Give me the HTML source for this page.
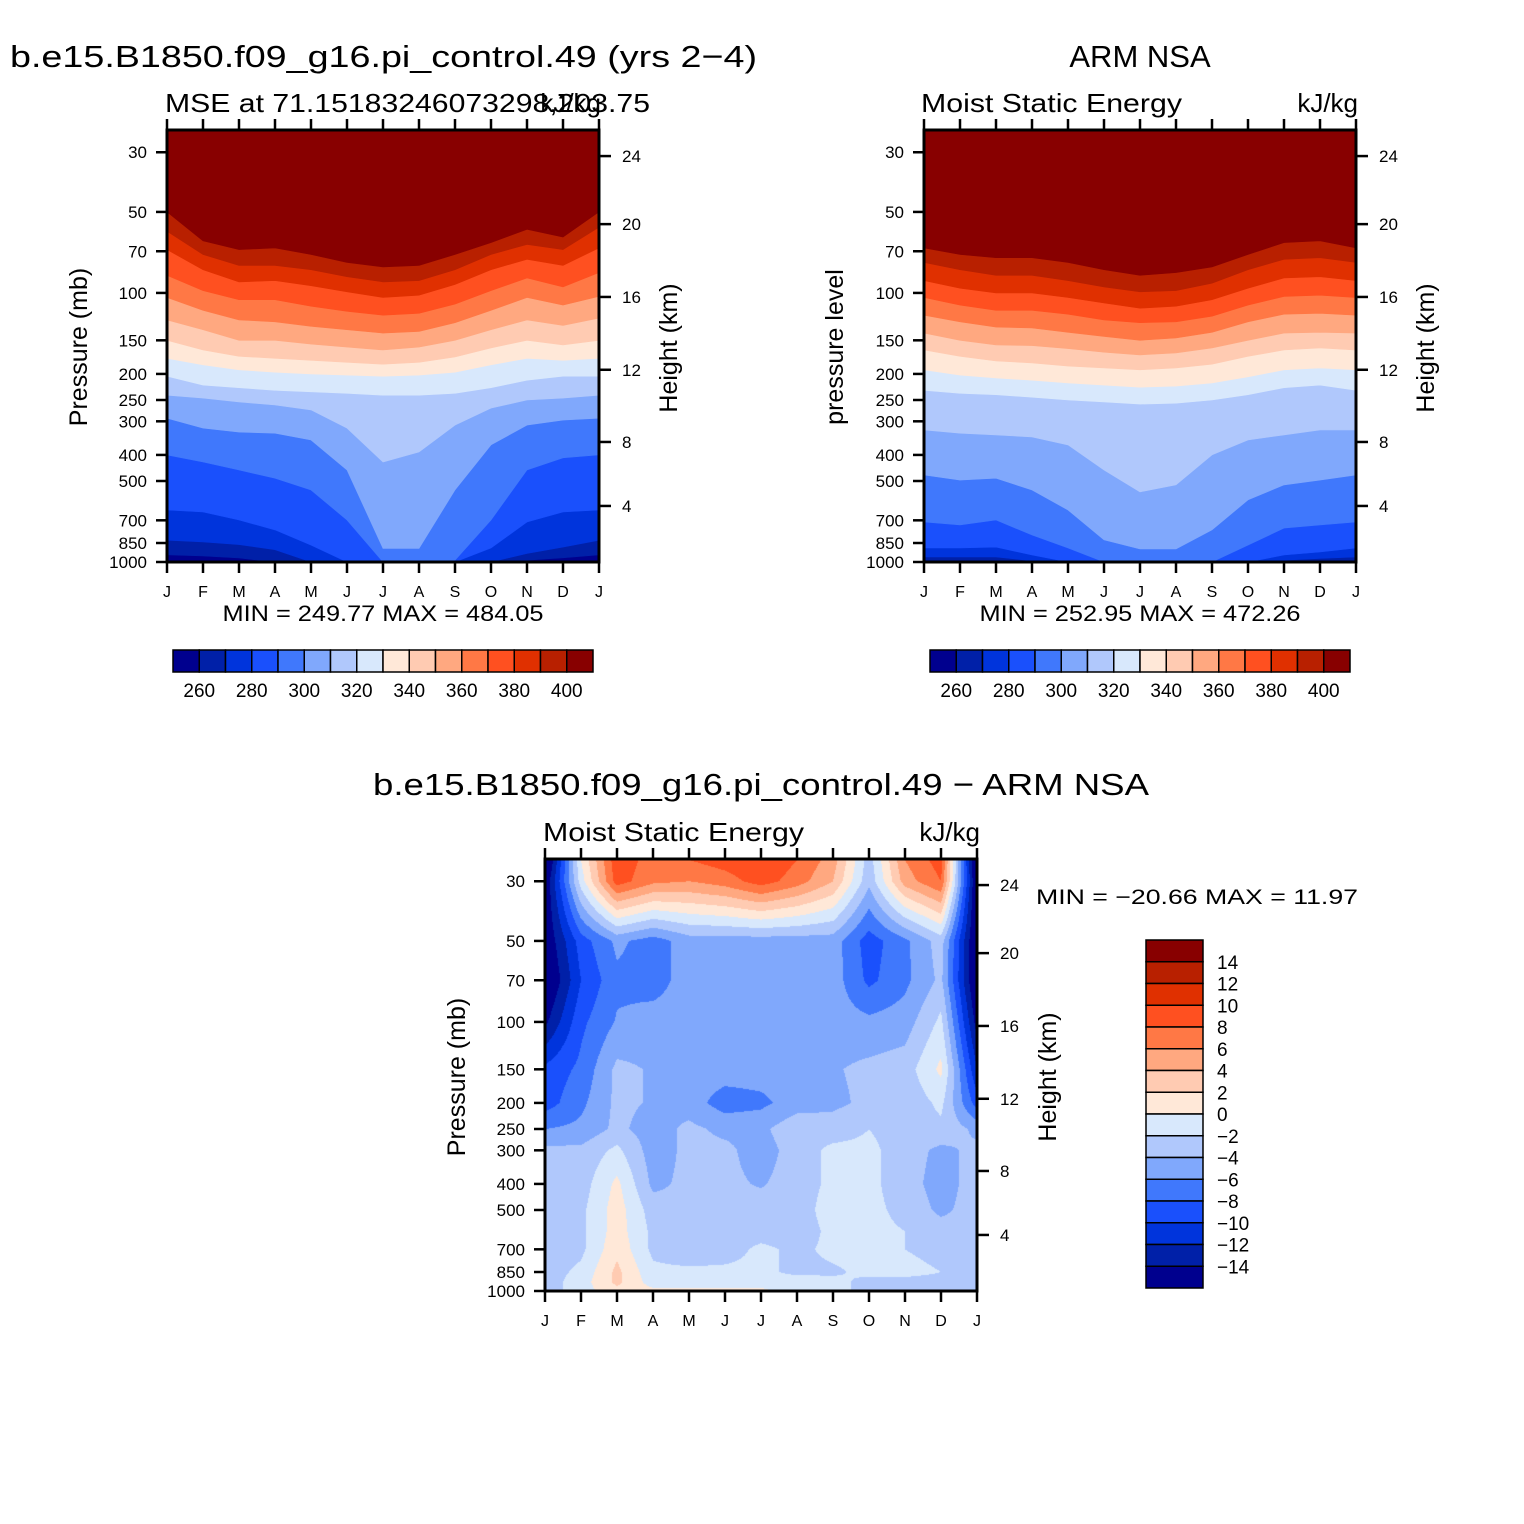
<!DOCTYPE html>
<html><head><meta charset="utf-8">
<style>
html,body{margin:0;padding:0;background:#fff;}
#wrap{position:relative;width:1524px;height:1524px;overflow:hidden;}
svg{position:absolute;left:0;top:0;}
canvas{position:absolute;}
text{font-family:"Liberation Sans",sans-serif;fill:#000;}
</style></head>
<body>
<div id="wrap">
<canvas id="diffCanvas" width="432" height="432" style="left:545px;top:859px;"></canvas>
<svg id="svg" width="1524" height="1524" viewBox="0 0 1524 1524"></svg>
</div>
<script>
// ---------- shared axes data ----------
const months = ["J","F","M","A","M","J","J","A","S","O","N","D","J"];
const pTicks = [30,50,70,100,150,200,250,300,400,500,700,850,1000];
const hTicks = [24,20,16,12,8,4];
const hTickP = [31.0,55.5,103.5,193,358,619]; // pressure at which each height tick sits
const topLevels = [260,270,280,290,300,310,320,330,340,350,360,370,380,390,400];
const topLabels = [260,280,300,320,340,360,380,400];
const colors = ["#00008e","#0020a8","#0034dc","#1a50fc","#4078fc","#80a8fc","#b0c8fc","#d8e8fc",
                "#ffe8d8","#ffcbb2","#ffa880","#ff7845","#ff5020","#e03000","#b82000","#880000"];
// ---------- model (top-left) contour crossings: pressure (mb) of each level per month ----------
const tl260=[940,950,966,1000,1000,1000,1000,1000,1000,1000,985,965,940];
const tl270=[830,842,862,900,1000,1000,1000,1000,1000,1000,930,880,830];
const tl280=[641,652,698,760,865,1000,1000,1000,1000,887,710,652,641];
const tl290=[400,425,455,488,540,698,1000,1000,985,698,455,410,400];
const tl300=[292,318,329,332,352,455,890,890,540,367,310,297,292];
const tl310=[240,246,254,261,272,318,425,390,310,268,250,246,240];
const tl320=[204,220,225,230,233,236,240,240,236,225,211,204,204];
const tl330=[175,185,193,197,200,202,204,202,197,185,175,178,175];
const tl340=[150,163,172,175,178,181,184,181,173,160,150,156,150];
const tl350=[126,137,150,150,155,159,163,159,150,137,126,132,124];
const tl360=[104,116,126,128,133,137,141,139,129,116,104,111,103];
const tl370=[86,98,106,106,112,117,121,119,110,98,88,95,84];
const tl380=[69,82,91,90,94,99,104,102,93,82,75,79,68];
const tl390=[59,72,79,79,82,87,91,90,82,72,66,69,57];
const tl400=[50,64,69,68,72,77,80,79,72,65,58,62,50];
// ---------- ARM NSA (top-right) ----------
const tr260=[985,985,985,1000,1000,1000,1000,1000,1000,1000,1000,990,985];
const tr270=[958,958,958,990,1000,1000,1000,1000,1000,1000,985,970,958];
const tr280=[887,887,880,942,1000,1000,1000,1000,1000,1000,942,918,887];
const tr290=[710,728,698,794,887,1000,1000,1000,1000,865,748,728,710];
const tr300=[475,496,488,540,641,828,895,895,760,588,517,496,475];
const tr310=[323,332,337,343,367,455,549,517,400,352,337,323,323];
const tr320=[230,236,239,244,250,254,259,257,250,239,225,220,230];
const tr330=[193,202,207,211,216,220,224,222,216,205,193,190,193];
const tr340=[163,172,179,182,187,190,193,190,184,172,163,160,163];
const tr350=[141,150,156,157,161,166,170,167,160,150,141,140,141];
const tr360=[121,128,134,135,140,145,150,147,140,128,120,119,121];
const tr370=[104,111,116,116,120,126,129,128,122,111,103,102,104];
const tr380=[90,96,100,100,104,109,114,112,106,96,88,87,90];
const tr390=[77,82,86,86,90,95,99,98,92,82,75,74,77];
const tr400=[68,72,74,74,77,82,86,84,80,72,65,64,68];
// ---------- difference field (kJ/kg) on pressure rows ----------
const diffP=[1000,925,850,700,600,500,400,300,250,200,150,100,70,50,30,25];
const d1000=[-3,-1,1.5,0.5,0.5,0.5,0.5,-1,-1.5,-2.5,-2.5,-2.5,-3];
const d925=[-3,-1,2.5,-1,-1,-1,-1,-1,-1.5,-2.5,-2.5,-2.5,-3];
const d850=[-3,-1.5,2.5,-1.5,-1.5,-1.5,-1.5,-2.5,-2.3,-1.5,-1.5,-2,-3];
const d700=[-3,-2.5,1.5,-2.5,-3.5,-3,-1.5,-2.5,-1.5,-1.5,-2,-2.5,-3];
const d600=[-3,-2.5,1,-2.5,-3.5,-3,-3,-3,-1.5,-1.5,-2,-3,-3];
const d500=[-3,-2.5,1,-3,-3.5,-3.5,-3,-3,-1,-1.5,-2.5,-4.5,-3];
const d400=[-3,-3,0.5,-4.5,-3.5,-3.5,-4.2,-3,-1.5,-1.5,-3,-5,-3];
const d300=[-3.5,-3.5,-1.5,-5,-3.5,-3.5,-5,-3,-1.5,-1.5,-3,-4.5,-3.5];
const d250=[-6,-5.5,-3.5,-5,-3.5,-4.5,-4.5,-2.5,-3,-2,-3,-2.5,-4.5];
const d200=[-9,-6.5,-3.5,-4.2,-5,-7,-6.5,-5,-4.5,-3.5,-3.5,-1.5,-9];
const d150=[-9.5,-7.5,-3.5,-4.2,-5,-5,-5,-5,-4.2,-3.5,-3,0.5,-12];
const d100=[-14.5,-8.5,-5.8,-5,-5,-5,-5,-5,-5,-5.5,-5,-1.5,-15];
const d70=[-17,-10,-6.5,-7,-5,-5,-5,-5,-5,-8.5,-6.5,-3.5,-17];
const d50=[-16,-9,-5.5,-7,-5,-5,-5,-5,-5,-9,-6.5,-3,-17];
const d30=[-16,-1,9,6.5,6,7,9,7,4,-3.5,5,8,-17];
const d25=[-18,0,9.5,7,8,9,10,8,5,-3,6,9,-18];
const diffGrid=[d1000,d925,d850,d700,d600,d500,d400,d300,d250,d200,d150,d100,d70,d50,d30,d25];
const diffLevels=[-14,-12,-10,-8,-6,-4,-2,0,2,4,6,8,10,12,14];

const NS="http://www.w3.org/2000/svg";
const svg=document.getElementById('svg');
const P_TOP=24.8;
function mk(tag,attrs,parent){const e=document.createElementNS(NS,tag);for(const k in attrs)e.setAttribute(k,attrs[k]);(parent||svg).appendChild(e);return e;}
function txt(s,x,y,size,anchor,parent,name,extra){
  const t=mk('text',Object.assign({x:x,y:y,'font-size':size,'text-anchor':anchor||'start'},extra||{}),parent);
  t.textContent=s;
  
  
  return t;
}
function makeAxes(x0,y0){
  return {
    x:(i)=>x0+i*36,
    y:(p)=>y0+432-432*Math.log10(1000/p)/Math.log10(1000/P_TOP)
  };
}
function frame(x0,y0,ax,g){
  for(let i=0;i<13;i++){
    const x=ax.x(i);
    const t1=mk('line',{x1:x,y1:y0,x2:x,y2:y0-11,stroke:'#000','stroke-width':2.5},g);
    
    
    const t2=mk('line',{x1:x,y1:y0+432,x2:x,y2:y0+443,stroke:'#000','stroke-width':2.5},g);
    
    
    txt(months[i],x,y0+467,16,'middle',g,'month-label');
  }
  pTicks.forEach(p=>{
    const y=ax.y(p);
    const l=mk('line',{x1:x0-11,y1:y,x2:x0,y2:y,stroke:'#000','stroke-width':2.5},g);
    
    
    txt(String(p),x0-20,y+6,17,'end',g,'pressure-tick-label');
  });
  hTicks.forEach((h,i)=>{
    const y=ax.y(hTickP[i]);
    const l=mk('line',{x1:x0+432,y1:y,x2:x0+444,y2:y,stroke:'#000','stroke-width':2.5},g);
    
    
    txt(String(h),x0+455,y+6,17,'start',g,'height-tick-label');
  });
  const r=mk('rect',{x:x0,y:y0,width:432,height:432,fill:'none',stroke:'#000','stroke-width':3},g);
  
  
}
function contourTop(x0,y0,levels,g,name){
  const ax=makeAxes(x0,y0);
  const base=mk('rect',{x:x0,y:y0,width:432,height:432,fill:colors[0]},g);
  
  
  levels.forEach((arr,k)=>{
    let pts=arr.map((p,i)=>ax.x(i).toFixed(1)+','+ax.y(p).toFixed(1));
    pts.push(ax.x(12)+','+y0);pts.push(ax.x(0)+','+y0);
    const poly=mk('polygon',{points:pts.join(' '),fill:colors[k+1],stroke:colors[k+1],'stroke-width':0.6},g);
    
    
  });
  frame(x0,y0,ax,g);
  return ax;
}
function hColorbar(x0,y0,g){
  const w=420/16;
  colors.forEach((c,i)=>{
    const r=mk('rect',{x:x0+i*w,y:y0,width:w,height:22,fill:c,stroke:'#000','stroke-width':1.5},g);
    
    
  });
  topLevels.forEach((lv,i)=>{
    if(topLabels.indexOf(lv)>=0) txt(String(lv),x0+(i+1)*w,y0+47,19,'middle',g,'colorbar-label');
  });
}

// ---------- top-left panel ----------
const gTL=mk('g',{});
contourTop(167,130,[tl260,tl270,tl280,tl290,tl300,tl310,tl320,tl330,tl340,tl350,tl360,tl370,tl380,tl390,tl400],gTL,'model');
txt('b.e15.B1850.f09_g16.pi_control.49 (yrs 2\u22124)',10,67,31,'start',gTL,'model-title',{textLength:747,lengthAdjust:'spacingAndGlyphs'});
txt('MSE at 71.15183246073298,203.75',165,112,26,'start',gTL,'model-subtitle',{textLength:485,lengthAdjust:'spacingAndGlyphs'});
txt('kJ/kg',601,112,26,'end',gTL,'model-units');
txt('Pressure (mb)',0,0,25,'middle',gTL,'y-axis-title',{transform:'translate(87,347) rotate(-90)'});
txt('Height (km)',0,0,25,'middle',gTL,'right-axis-title',{transform:'translate(677,348) rotate(-90)'});
txt('MIN = 249.77 MAX = 484.05',383,621,22,'middle',gTL,'model-min-max',{textLength:321,lengthAdjust:'spacingAndGlyphs'});
hColorbar(173,650,gTL);

// ---------- top-right panel ----------
const gTR=mk('g',{});
contourTop(924,130,[tr260,tr270,tr280,tr290,tr300,tr310,tr320,tr330,tr340,tr350,tr360,tr370,tr380,tr390,tr400],gTR,'obs');
txt('ARM NSA',1140,67,31,'middle',gTR,'obs-title');
txt('Moist Static Energy',921,112,26,'start',gTR,'obs-subtitle',{textLength:261,lengthAdjust:'spacingAndGlyphs'});
txt('kJ/kg',1358,112,26,'end',gTR,'obs-units');
txt('pressure level',0,0,25,'middle',gTR,'y-axis-title',{transform:'translate(843,347) rotate(-90)'});
txt('Height (km)',0,0,25,'middle',gTR,'right-axis-title',{transform:'translate(1434,348) rotate(-90)'});
txt('MIN = 252.95 MAX = 472.26',1140,621,22,'middle',gTR,'obs-min-max',{textLength:321,lengthAdjust:'spacingAndGlyphs'});
hColorbar(930,650,gTR);

// ---------- bottom difference panel ----------
const gB=mk('g',{});
const axB=makeAxes(545,859);
(function drawDiff(){
  const cv=document.getElementById('diffCanvas');const ctx=cv.getContext('2d');
  const img=ctx.createImageData(432,432);
  const lp=diffP.map(p=>Math.log10(p));
  const rgb=colors.map(c=>[parseInt(c.substr(1,2),16),parseInt(c.substr(3,2),16),parseInt(c.substr(5,2),16)]);
  const lTop=Math.log10(P_TOP);
  for(let py=0;py<432;py++){
    const l=lTop+(py+0.5)/432*(3-lTop);
    let r=0;while(r<lp.length-2&&lp[r+1]>l)r++;
    let fy=(lp[r]-l)/(lp[r]-lp[r+1]);fy=Math.max(0,Math.min(1,fy));
    for(let px=0;px<432;px++){
      const m=(px+0.5)/36;let c=Math.min(11,Math.floor(m));const fx=m-c;
      const a=diffGrid[r][c]*(1-fx)+diffGrid[r][c+1]*fx;
      const b=diffGrid[r+1][c]*(1-fx)+diffGrid[r+1][c+1]*fx;
      const v=a*(1-fy)+b*fy;
      let k=0;while(k<diffLevels.length&&v>=diffLevels[k])k++;
      const o=(py*432+px)*4;img.data[o]=rgb[k][0];img.data[o+1]=rgb[k][1];img.data[o+2]=rgb[k][2];img.data[o+3]=255;
    }
  }
  ctx.putImageData(img,0,0);
})();
frame(545,859,axB,gB);
txt('b.e15.B1850.f09_g16.pi_control.49 \u2212 ARM NSA',761,795,31,'middle',gB,'difference-title',{textLength:776,lengthAdjust:'spacingAndGlyphs'});
txt('Moist Static Energy',543,841,26,'start',gB,'difference-subtitle',{textLength:261,lengthAdjust:'spacingAndGlyphs'});
txt('kJ/kg',980,841,26,'end',gB,'difference-units');
txt('Pressure (mb)',0,0,25,'middle',gB,'y-axis-title',{transform:'translate(465,1077) rotate(-90)'});
txt('Height (km)',0,0,25,'middle',gB,'right-axis-title',{transform:'translate(1056,1077) rotate(-90)'});
txt('MIN = \u221220.66 MAX =   11.97',1036,904,21,'start',gB,'difference-min-max',{textLength:322,lengthAdjust:'spacingAndGlyphs','xml:space':'preserve'});
(function vColorbar(){
  const x0=1146,y0=940,h=348/16;
  for(let i=0;i<16;i++){
    const r=mk('rect',{x:x0,y:y0+i*h,width:57,height:h,fill:colors[15-i],stroke:'#000','stroke-width':1.5},gB);
    
    
  }
  const labs=diffLevels.slice().reverse();
  labs.forEach((v,i)=>{
    txt(v<0?'\u2212'+Math.abs(v):String(v),1217,y0+(i+1)*h+7,19,'start',gB,'diff-colorbar-label');
  });
})();
</script>
</body></html>
